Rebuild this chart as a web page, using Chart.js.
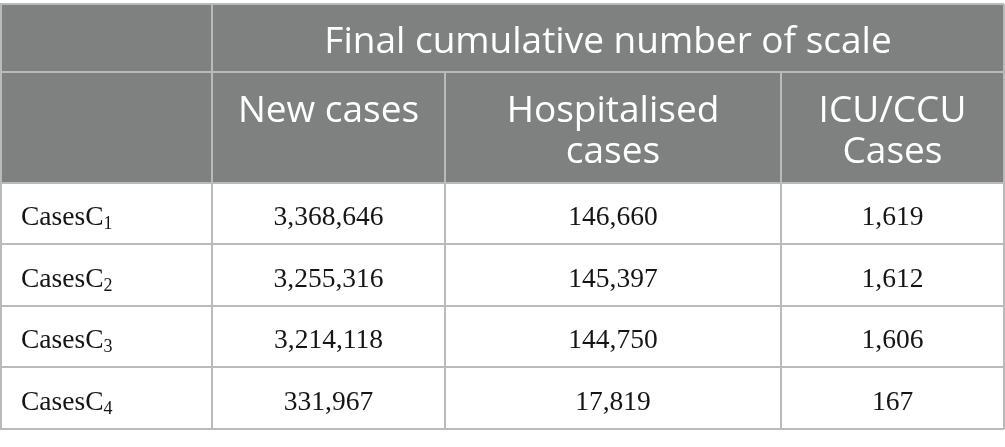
<!DOCTYPE html>
<html>
<head>
<meta charset="utf-8">
<script src="https://cdn.jsdelivr.net/npm/chart.js@4"></script>
<style>
html, body { margin: 0; padding: 0; background: #fff; }
#wrap { width: 1005px; height: 447px; }
</style>
</head>
<body>
<div id="wrap"><canvas id="tableChart" width="1005" height="447"></canvas></div>
<script>
// table content
const groupTitle = "Final cumulative number of scale"
const columnHeaders = [["New cases"], ["Hospitalised", "cases"], ["ICU/CCU", "Cases"]]
const rowBase = "CasesC"
const rowSubs = ["1", "2", "3", "4"]
const newCases = [3368646, 3255316, 3214118, 331967]
const hospitalised = [146660, 145397, 144750, 17819]
const icuCases = [1619, 1612, 1606, 167]

// layout in scale units (1 unit = 1 px)
const colEdges = [0, 212, 445, 781, 1004]
const rowEdges = [4, 72, 183, 244, 306, 367, 429]

const headFill = "#7f8080"
const lineColor = "#bababa"
const sansFont = "'Open Sans', 'Noto Sans', sans-serif"
const serifFont = "'Liberation Serif', 'DejaVu Serif', serif"

const columns = [newCases, hospitalised, icuCases]

const tablePlugin = {
id: "tablePlugin",
afterDraw(chart){
const ctx = chart.ctx
const x = chart.scales.x
const y = chart.scales.y
const px = v => x.getPixelForValue(v)
const py = v => y.getPixelForValue(v)
const fmt = n => n.toLocaleString("en-US")

ctx.save()

// header background
ctx.fillStyle = headFill
ctx.fillRect(px(colEdges[0]), py(rowEdges[0]), px(colEdges[4]) - px(colEdges[0]), py(rowEdges[2]) - py(rowEdges[0]))

// grid lines
ctx.strokeStyle = lineColor
ctx.lineWidth = 2
const line = (x1, y1, x2, y2) => {
ctx.beginPath()
ctx.moveTo(px(x1), py(y1))
ctx.lineTo(px(x2), py(y2))
ctx.stroke()
}
rowEdges.forEach(r => line(colEdges[0], r, colEdges[4], r))
line(colEdges[0] + 1, rowEdges[0], colEdges[0] + 1, rowEdges[6])
line(colEdges[1], rowEdges[0], colEdges[1], rowEdges[6])
line(colEdges[2], rowEdges[1], colEdges[2], rowEdges[6])
line(colEdges[3], rowEdges[1], colEdges[3], rowEdges[6])
line(colEdges[4], rowEdges[0], colEdges[4], rowEdges[6])

// header text
ctx.fillStyle = "#ffffff"
ctx.textAlign = "center"
ctx.textBaseline = "alphabetic"
ctx.font = "37px " + sansFont
ctx.fillText(groupTitle, (px(colEdges[1]) + px(colEdges[4])) / 2, py(53))
columnHeaders.forEach((lines, i) => {
const cx = (px(colEdges[i + 1]) + px(colEdges[i + 2])) / 2
lines.forEach((t, j) => ctx.fillText(t, cx, py(122 + j * 41)))
})

// body text
ctx.fillStyle = "#151515"
rowSubs.forEach((sub, r) => {
const base = (py(rowEdges[r + 2]) + py(rowEdges[r + 3])) / 2 + 11.5
ctx.textAlign = "left"
ctx.font = "27.5px " + serifFont
ctx.fillText(rowBase, px(21), base)
const w = ctx.measureText(rowBase).width
ctx.font = "18px " + serifFont
ctx.fillText(sub, px(21) + w, base + 4)

ctx.font = "27.5px " + serifFont
ctx.textAlign = "center"
columns.forEach((vals, c) => {
const cx = (px(colEdges[c + 1]) + px(colEdges[c + 2])) / 2
ctx.fillText(fmt(vals[r]), cx, base)
})
})

ctx.restore()
}
}

new Chart(document.getElementById("tableChart"), {
type: "scatter",
data: { datasets: [] },
options: {
responsive: false,
animation: false,
layout: { padding: 0 },
plugins: { legend: { display: false }, tooltip: { enabled: false } },
scales: {
x: { type: "linear", min: 0, max: 1005, display: false },
y: { type: "linear", min: 0, max: 447, reverse: true, display: false }
}
},
plugins: [tablePlugin]
})
</script>
</body>
</html>
